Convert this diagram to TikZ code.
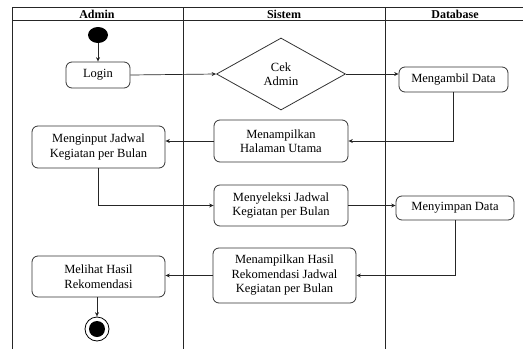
\documentclass[tikz,border=0pt]{standalone}
\usepackage{fontspec}
\setmainfont{Liberation Serif}
\usetikzlibrary{arrows.meta,shapes.geometric}
\begin{document}
\begin{tikzpicture}[x=1pt,y=-1pt,
 lane/.style={line width=0.7pt, draw=black!85},
 act/.style={draw=black!80, line width=0.8pt, rounded corners=6pt, align=center,
   font=\fontsize{12.5}{14.5}\selectfont, inner sep=0pt},
 flow/.style={line width=0.7pt, draw=black!85, -{Stealth[length=4.5pt,width=4pt]}},
 hdr/.style={font=\fontsize{12}{14}\selectfont\bfseries, inner sep=0pt}]
\useasboundingbox (0,0) rectangle (523,349);
% swimlanes
\draw[lane] (12,349) -- (12,7) -- (523,7);
\draw[lane] (12,20) -- (523,20);
\draw[lane] (183,7) -- (183,349);
\draw[lane] (385,7) -- (385,349);
\node[hdr] (hA) at (97,14) {Admin};
\node[hdr] (hS) at (284,14) {Sistem};
\node[hdr] (hD) at (455,14) {Database};
% nodes
\node[ellipse, fill=black, minimum width=20pt, minimum height=16pt, inner sep=0pt] (start) at (98,35) {};
\node[act, minimum width=64pt, minimum height=26pt] (login) at (98,75) {Login};
\node[diamond, draw=black!80, line width=0.8pt, minimum width=129pt, minimum height=72pt, inner sep=0pt,
  align=center, font=\fontsize{12.5}{14.5}\selectfont] (dia) at (281,74) {Cek\\Admin};
\node[act, minimum width=109pt, minimum height=25pt] (mg) at (453.5,79.5) {Mengambil Data};
\node[act, minimum width=134pt, minimum height=42pt] (hu) at (281,141) {Menampilkan\\Halaman Utama};
\node[act, minimum width=133pt, minimum height=42pt] (mi) at (98.5,147) {Menginput Jadwal\\Kegiatan per Bulan};
\node[act, minimum width=134pt, minimum height=41pt] (ms) at (281,205.5) {Menyeleksi Jadwal\\Kegiatan per Bulan};
\node[act, minimum width=118pt, minimum height=24pt] (sp) at (455,208) {Menyimpan Data};
\node[act, minimum width=143pt, minimum height=55pt] (hr) at (284.5,275.5) {Menampilkan Hasil\\Rekomendasi Jadwal\\Kegiatan per Bulan};
\node[act, minimum width=133pt, minimum height=41pt] (ml) at (98.5,276.5) {Melihat Hasil\\Rekomendasi};
\node[circle, draw=black, line width=0.8pt, minimum size=24pt, inner sep=0pt] (end) at (97,329) {};
\node[circle, fill=black, minimum size=16pt, inner sep=0pt] (endin) at (end.center) {};
% flows
\draw[flow] (start) -- (login.north);
\draw[flow] (login.east) -- (dia.west);
\draw[flow] (dia.east) -- (dia.east -| mg.west);
\draw[flow] (mg.south) |- (hu.east);
\draw[flow] (hu.west) -- (hu.west -| mi.east);
\draw[flow] (mi.south) |- (ms.west);
\draw[flow] (ms.east) -- (ms.east -| sp.west);
\draw[flow] (sp.south) |- (hr.east);
\draw[flow] (hr.west) -- (hr.west -| ml.east);
\draw[flow] (ml.south -| end.north) -- (end.north);
\end{tikzpicture}
\end{document}
